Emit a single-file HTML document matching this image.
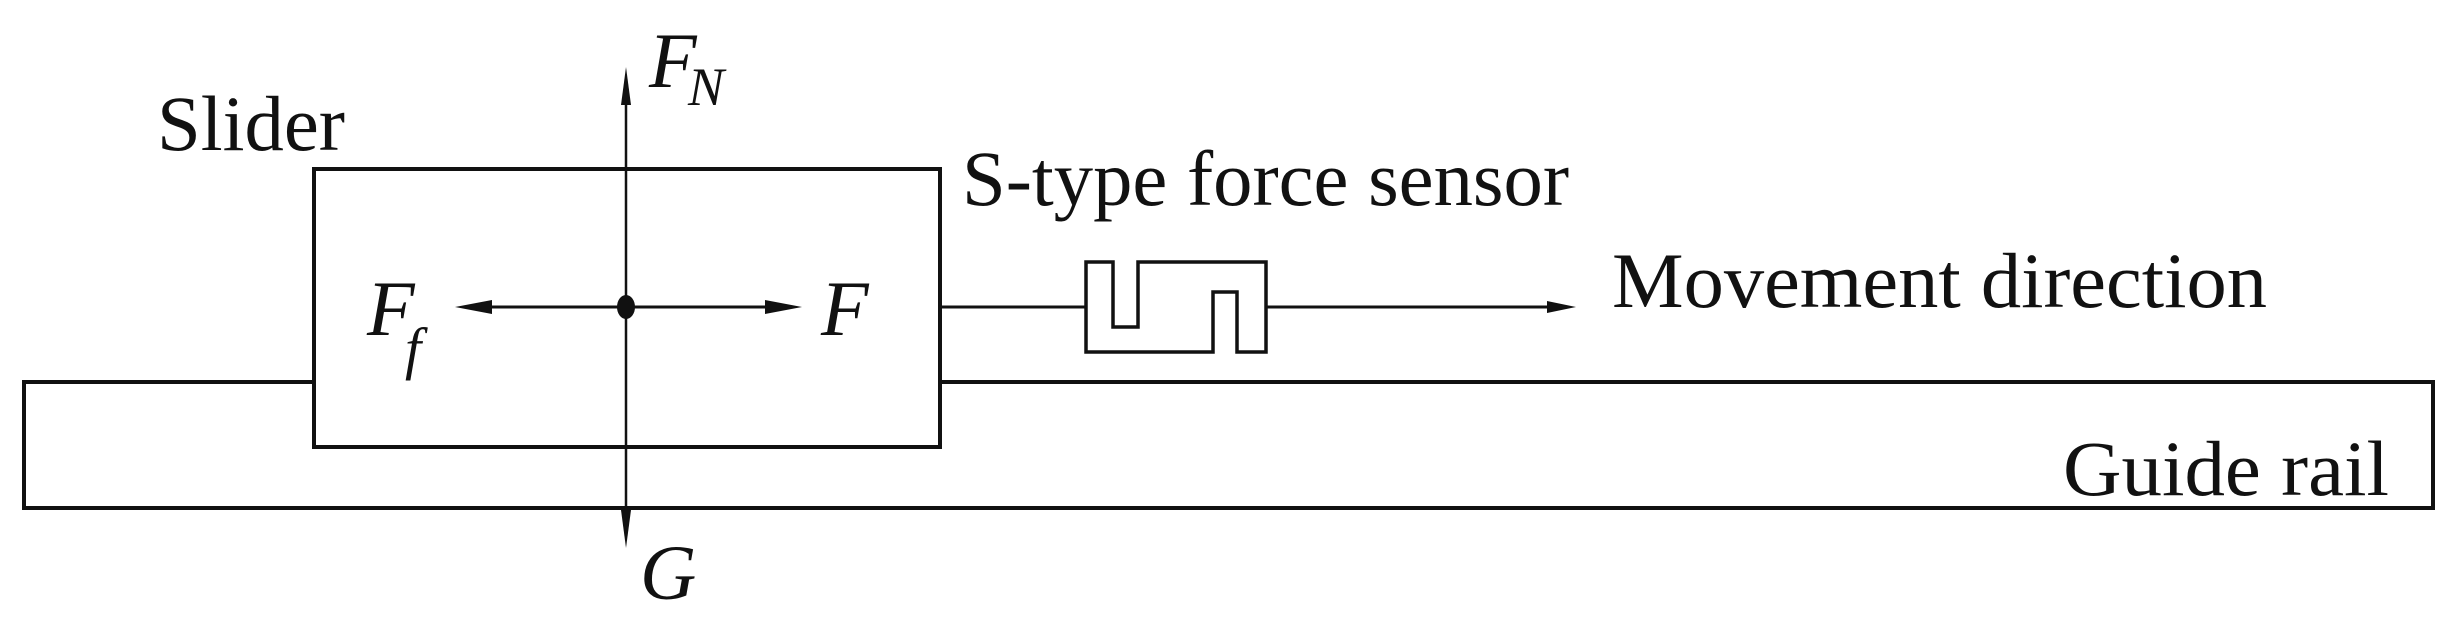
<!DOCTYPE html>
<html><head><meta charset="utf-8"><style>html,body{margin:0;padding:0;background:#fff}svg{display:block}</style></head>
<body>
<svg width="2462" height="618" viewBox="0 0 2462 618" xmlns="http://www.w3.org/2000/svg">
<g fill="none" stroke="#111" stroke-width="4">
<polyline points="314,382 24,382 24,508 2433,508 2433,382 940,382"/>
<rect x="314" y="169" width="626" height="278" fill="#fff"/>
<path d="M1086,262 H1113 V327 H1138 V262 H1266 V352 H1237 V292 H1213 V352 H1086 Z" stroke-width="3.5"/>
<line x1="940" y1="307" x2="1086" y2="307" stroke-width="3"/>
<line x1="1266" y1="307" x2="1550" y2="307" stroke-width="3"/>
<line x1="626" y1="90" x2="626" y2="525" stroke-width="2.5"/>
<line x1="480" y1="307" x2="780" y2="307" stroke-width="3"/>
</g>
<g fill="#111">
<polygon points="1576,307 1547,301 1547,313"/>
<polygon points="626,67 621,105 631,105"/>
<polygon points="626,548 621,510 631,510"/>
<polygon points="455,307 492,300 492,314"/>
<polygon points="802,307 765,300 765,314"/>
<ellipse cx="626" cy="307" rx="9" ry="12"/>
</g>
<g font-family="'Liberation Serif',serif" fill="#111" font-size="78">
<text x="157" y="150" textLength="188" lengthAdjust="spacingAndGlyphs">Slider</text>
<text x="962" y="205" textLength="607" lengthAdjust="spacingAndGlyphs">S-type force sensor</text>
<text x="1612" y="307" textLength="655" lengthAdjust="spacingAndGlyphs">Movement direction</text>
<text x="2063" y="495" textLength="326" lengthAdjust="spacingAndGlyphs">Guide rail</text>
<g font-style="italic">
<text x="649" y="87" font-size="78">F</text>
<text x="688" y="105" font-size="54">N</text>
<text x="367" y="335" font-size="78">F</text>
<text x="405" y="368" font-size="58">f</text>
<text x="821" y="335" font-size="78">F</text>
<text x="640" y="599" font-size="78">G</text>
</g>
</g>
</svg>
</body></html>
